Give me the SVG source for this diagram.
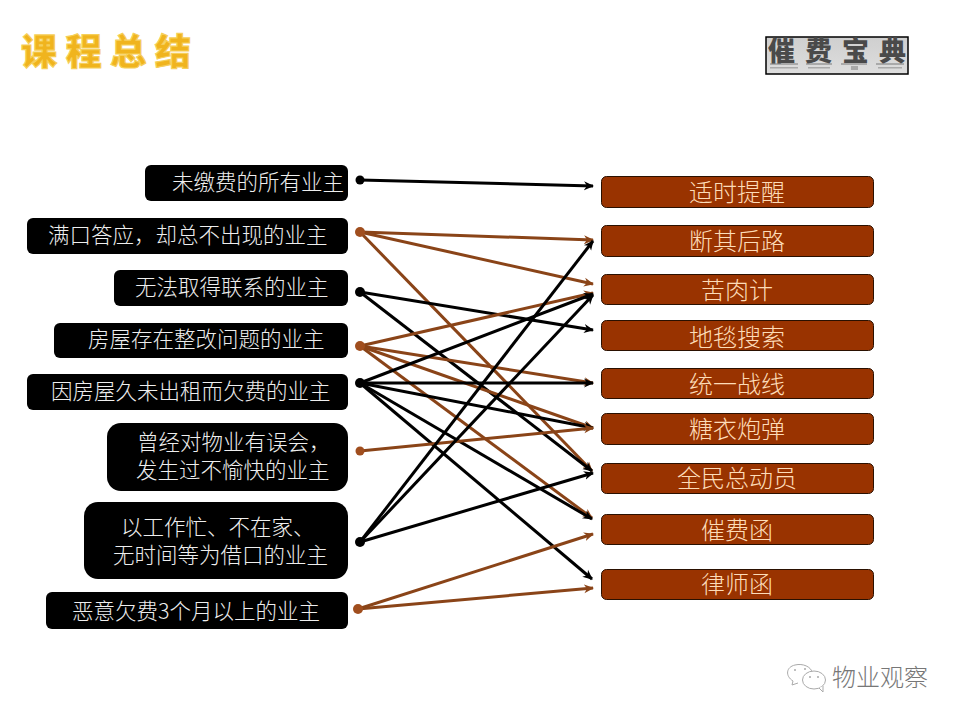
<svg xmlns="http://www.w3.org/2000/svg" width="960" height="720" viewBox="0 0 960 720">
<style>
text{font-family:"Noto Sans CJK SC","Noto Sans",sans-serif}
.l rect{fill:#000}
.l text{fill:#eee;font-size:21.5px;font-weight:300}
.r rect{fill:#993300;stroke:#2a1000;stroke-width:1}
.r text{fill:#fddcb8;font-size:24px;text-anchor:middle;font-weight:300}
.k{stroke:#000;fill:none;stroke-width:3;marker-end:url(#ak)}
.b{stroke:#8a4418;fill:none;stroke-width:3;marker-end:url(#ab)}
.w{fill:none;stroke:#aaa;stroke-width:1}
</style>
<defs>
<marker id="ak" markerUnits="userSpaceOnUse" markerWidth="12" markerHeight="12" refX="9" refY="5" orient="auto"><path d="M0 0.500L10 5L0 9.500L3 5Z" fill="#000"/></marker>
<marker id="ab" markerUnits="userSpaceOnUse" markerWidth="12" markerHeight="12" refX="9" refY="5" orient="auto"><path d="M0 0.500L10 5L0 9.500L3 5Z" fill="#8a4418"/></marker>
<linearGradient id="lg" x1="0" y1="0" x2="0" y2="1"><stop offset="0" stop-color="#cfcfcf"/><stop offset="1" stop-color="#dedede"/></linearGradient>
</defs>
<rect width="960" height="720" fill="#fff"/>
<g id="title"><text x="21" y="65" font-size="36" font-weight="900" fill="#f0b41e" stroke="#f6cf5a" stroke-width="1.2" textLength="170">课程总结</text></g>
<g id="logo">
<rect x="766" y="37" width="142" height="37" fill="url(#lg)" stroke="#000" stroke-width="1.5"/>
<text x="768" y="60.500" font-size="27" font-weight="900" fill="#4a4a4a" textLength="138">催费宝典</text>
<g fill="#8a8a8a" opacity="0.6"><rect x="770" y="63" width="28" height="2"/><rect x="770" y="67" width="28" height="1.500"/><rect x="806" y="63" width="26" height="2"/><rect x="808" y="67" width="22" height="1.500"/><rect x="841" y="63" width="26" height="2"/><rect x="851" y="66" width="7" height="4"/><rect x="876" y="63" width="28" height="2"/><rect x="878" y="67" width="24" height="1.500"/></g>
</g>
<g id="connectors">
<line class="k" x1="360" y1="180" x2="593" y2="186"/>
<line class="b" x1="360" y1="232" x2="593" y2="240"/>
<line class="b" x1="360" y1="232" x2="593" y2="284"/>
<line class="b" x1="360" y1="232" x2="592" y2="471"/>
<line class="k" x1="360" y1="292" x2="593" y2="330"/>
<line class="k" x1="360" y1="292" x2="592" y2="471"/>
<line class="b" x1="360" y1="346" x2="593" y2="293"/>
<line class="b" x1="360" y1="346" x2="593" y2="383"/>
<line class="b" x1="360" y1="346" x2="593" y2="428"/>
<line class="b" x1="360" y1="346" x2="592" y2="518"/>
<line class="k" x1="360" y1="383" x2="593" y2="294"/>
<line class="k" x1="360" y1="383" x2="593" y2="383"/>
<line class="k" x1="360" y1="383" x2="593" y2="428"/>
<line class="k" x1="360" y1="383" x2="592" y2="519"/>
<line class="k" x1="360" y1="383" x2="592" y2="579"/>
<line class="b" x1="360" y1="451" x2="593" y2="428"/>
<line class="k" x1="360" y1="542" x2="593" y2="241"/>
<line class="k" x1="360" y1="542" x2="593" y2="295"/>
<line class="k" x1="360" y1="542" x2="593" y2="473"/>
<line class="b" x1="358" y1="609" x2="593" y2="534"/>
<line class="b" x1="358" y1="609" x2="593" y2="588"/>
</g>
<g id="dots">
<circle cx="360" cy="180" r="4.500" fill="#000"/>
<circle cx="360" cy="232" r="5" fill="#a04e1e"/>
<circle cx="360" cy="292" r="5" fill="#000"/>
<circle cx="360" cy="346" r="5" fill="#a04e1e"/>
<circle cx="360" cy="383" r="5" fill="#000"/>
<circle cx="360" cy="451" r="4.500" fill="#a04e1e"/>
<circle cx="360" cy="542" r="5" fill="#000"/>
<circle cx="358" cy="609" r="5" fill="#a04e1e"/>
</g>
<g id="l1" class="l"><rect x="145" y="165" width="203" height="36" rx="6"/><text x="172" y="190">未缴费的所有业主</text></g>
<g id="l2" class="l"><rect x="27" y="218" width="321" height="36" rx="6"/><text x="48" y="243">满口答应，却总不出现的业主</text></g>
<g id="l3" class="l"><rect x="114" y="270" width="234" height="36" rx="6"/><text x="135" y="295">无法取得联系的业主</text></g>
<g id="l4" class="l"><rect x="54" y="323" width="294" height="35" rx="6"/><text x="88" y="347">房屋存在整改问题的业主</text></g>
<g id="l5" class="l"><rect x="27" y="374" width="321" height="36" rx="6"/><text x="51" y="399">因房屋久未出租而欠费的业主</text></g>
<g id="l6" class="l"><rect x="107" y="423" width="241" height="68" rx="14"/><text x="137" y="450">曾经对物业有误会，</text><text x="136" y="478">发生过不愉快的业主</text></g>
<g id="l7" class="l"><rect x="84" y="502" width="264" height="77" rx="14"/><text x="121" y="535">以工作忙、不在家、</text><text x="113" y="563">无时间等为借口的业主</text></g>
<g id="l8" class="l"><rect x="46" y="592" width="302" height="37" rx="6"/><text x="72" y="619">恶意欠费3个月以上的业主</text></g>
<g id="r1" class="r"><rect x="601.500" y="176.500" width="272" height="31" rx="5"/><text x="737" y="201">适时提醒</text></g>
<g id="r2" class="r"><rect x="601.500" y="225.500" width="272" height="31" rx="5"/><text x="737" y="250">断其后路</text></g>
<g id="r3" class="r"><rect x="601.500" y="274.500" width="272" height="30" rx="5"/><text x="737" y="299">苦肉计</text></g>
<g id="r4" class="r"><rect x="601.500" y="320.500" width="272" height="30" rx="5"/><text x="737" y="346">地毯搜索</text></g>
<g id="r5" class="r"><rect x="601.500" y="368.500" width="272" height="30" rx="5"/><text x="737" y="393">统一战线</text></g>
<g id="r6" class="r"><rect x="601.500" y="413.500" width="272" height="31" rx="5"/><text x="737" y="438">糖衣炮弹</text></g>
<g id="r7" class="r"><rect x="601.500" y="463.500" width="272" height="30" rx="5"/><text x="737" y="487">全民总动员</text></g>
<g id="r8" class="r"><rect x="601.500" y="514.500" width="272" height="30" rx="5"/><text x="737" y="539">催费函</text></g>
<g id="r9" class="r"><rect x="601.500" y="569.500" width="272" height="30" rx="5"/><text x="737" y="593">律师函</text></g>
<g id="watermark">
<path class="w" d="M793 681C785 676 786 667 795 665C803 663 811 667 812 672"/>
<path class="w" d="M793 681L792 685L798 683"/>
<ellipse class="w" cx="814" cy="680" rx="11.500" ry="9" style="fill:#fff"/>
<path class="w" d="M819 688L823 692L823 686" style="fill:#fff"/>
<circle cx="795" cy="670" r="1" fill="#aaa"/><circle cx="805" cy="669" r="1" fill="#aaa"/><circle cx="810" cy="677" r="1" fill="#aaa"/><circle cx="818" cy="677" r="1" fill="#aaa"/>
<text x="832" y="686" font-size="24" fill="#777" textLength="96" style="font-weight:300">物业观察</text>
</g>
</svg>
